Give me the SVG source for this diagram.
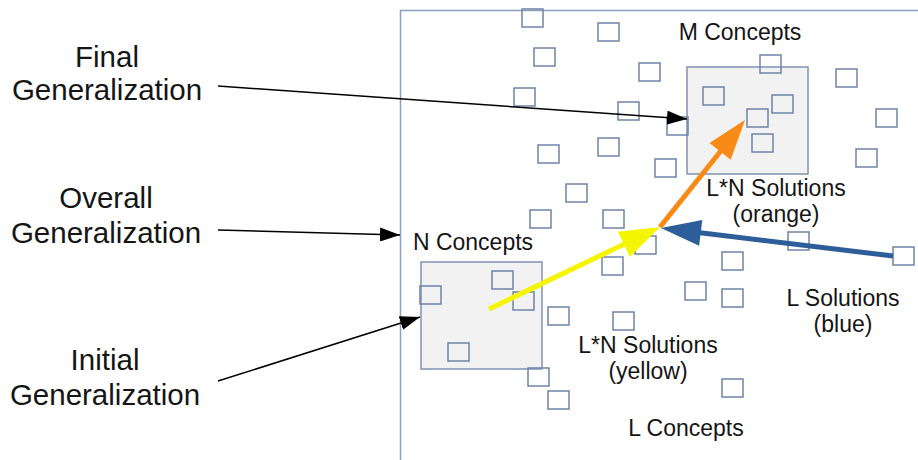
<svg xmlns="http://www.w3.org/2000/svg" width="918" height="460" viewBox="0 0 918 460">
<style>
  .lbl{font-family:"Liberation Sans",Arial,sans-serif;fill:#151515;text-anchor:middle}
  .big{font-size:29.5px}
  .med{font-size:23px}
  .sq{fill:none;stroke:#6f84a8;stroke-width:1.5}
  .box{fill:#f2f2f2;stroke:#7f93b2;stroke-width:1.5}
  .blk{stroke:#000;stroke-width:1.5;fill:none}
</style>
<defs>
  <marker id="ah" markerUnits="userSpaceOnUse" markerWidth="20" markerHeight="14" refX="20" refY="7" orient="auto">
    <path d="M0,0 L20,7 L0,14 z" fill="#000"/>
  </marker>
  <symbol id="s" overflow="visible"><rect class="sq" x="0" y="0" width="21" height="18"/></symbol>
</defs>
<rect width="918" height="460" fill="#fff"/>

<g id="container">
  <rect x="400.5" y="10.5" width="600" height="500" fill="#fff" stroke="#8aa0c0" stroke-width="1.5"/>
</g>

<g id="m-concepts-box"><rect class="box" x="687" y="67" width="121" height="107"/></g>
<g id="n-concepts-box"><rect class="box" x="421" y="262" width="121" height="107"/></g>

<g id="concepts">
  <use href="#s" x="522" y="9"/>
  <use href="#s" x="598" y="23"/>
  <use href="#s" x="534" y="48"/>
  <use href="#s" x="639" y="63"/>
  <use href="#s" x="760" y="55"/>
  <use href="#s" x="836" y="69"/>
  <use href="#s" x="514" y="88"/>
  <use href="#s" x="703" y="87"/>
  <use href="#s" x="772" y="95"/>
  <use href="#s" x="747" y="109"/>
  <use href="#s" x="618" y="102"/>
  <use href="#s" x="667" y="117"/>
  <use href="#s" x="876" y="109"/>
  <use href="#s" x="752" y="134"/>
  <use href="#s" x="538" y="145"/>
  <use href="#s" x="598" y="138"/>
  <use href="#s" x="856" y="149"/>
  <use href="#s" x="655" y="159"/>
  <use href="#s" x="566" y="184"/>
  <use href="#s" x="530" y="210"/>
  <use href="#s" x="603" y="210"/>
  <use href="#s" x="635" y="236"/>
  <use href="#s" x="788" y="232"/>
  <use href="#s" x="893" y="247"/>
  <use href="#s" x="722" y="252"/>
  <use href="#s" x="602" y="257"/>
  <use href="#s" x="492" y="271"/>
  <use href="#s" x="685" y="282"/>
  <use href="#s" x="420" y="286"/>
  <use href="#s" x="722" y="289"/>
  <use href="#s" x="513" y="292"/>
  <use href="#s" x="548" y="307"/>
  <use href="#s" x="613" y="312"/>
  <use href="#s" x="448" y="343"/>
  <use href="#s" x="528" y="368"/>
  <use href="#s" x="548" y="391"/>
  <use href="#s" x="722" y="379"/>
</g>

<g id="label-final"><text class="lbl big" x="107" y="67">Final</text><text class="lbl big" x="107" y="100">Generalization</text></g>
<g id="label-overall"><text class="lbl big" x="106" y="208">Overall</text><text class="lbl big" x="106" y="243">Generalization</text></g>
<g id="label-initial"><text class="lbl big" x="105" y="370">Initial</text><text class="lbl big" x="105" y="405">Generalization</text></g>

<g id="label-m"><text class="lbl med" x="740" y="40">M Concepts</text></g>
<g id="label-n"><text class="lbl med" x="473" y="250">N Concepts</text></g>
<g id="label-orange"><text class="lbl med" x="776" y="196">L*N Solutions</text><text class="lbl med" x="776" y="222">(orange)</text></g>
<g id="label-blue"><text class="lbl med" x="843" y="306">L Solutions</text><text class="lbl med" x="843" y="332">(blue)</text></g>
<g id="label-yellow"><text class="lbl med" x="648" y="353">L*N Solutions</text><text class="lbl med" x="648" y="379">(yellow)</text></g>
<g id="label-l"><text class="lbl med" x="686" y="436">L Concepts</text></g>

<g id="connectors">
  <line class="blk" x1="218" y1="86" x2="687" y2="119" marker-end="url(#ah)"/>
  <line class="blk" x1="218" y1="230" x2="400" y2="235" marker-end="url(#ah)"/>
  <line class="blk" x1="218" y1="381" x2="420" y2="317" marker-end="url(#ah)"/>

  <line x1="489" y1="309" x2="640" y2="236.5" stroke="#f5f500" stroke-width="5"/>
  <polygon points="660,227 617.9,231.7 629.9,256.9" fill="#f5f500"/>

  <line x1="893" y1="256" x2="690" y2="231.5" stroke="#2d5e99" stroke-width="5"/>
  <polygon points="661,228 702.3,219.9 699.1,245.7" fill="#2d5e99"/>

  <line x1="660" y1="227" x2="728" y2="142" stroke="#f98a15" stroke-width="5"/>
  <polygon points="745,120 709.5,142.9 730.7,159.7" fill="#f98a15"/>
</g>
</svg>
